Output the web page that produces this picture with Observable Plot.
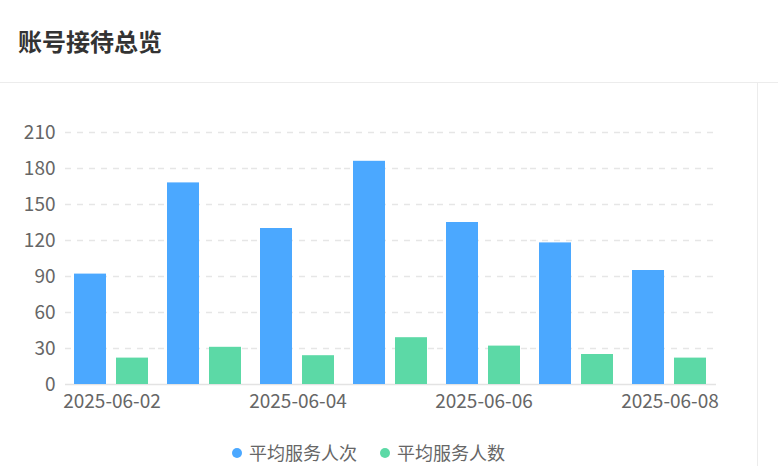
<!DOCTYPE html>
<html>
<head>
<meta charset="utf-8">
<script src="https://cdn.jsdelivr.net/npm/d3@7"></script>
<script src="https://cdn.jsdelivr.net/npm/@observablehq/plot@0.6"></script>
<style>
  html, body { margin: 0; padding: 0; background: #fff; }
  body { width: 778px; height: 466px; overflow: hidden; position: relative;
         font-family: "Noto Sans CJK SC", "Noto Sans", sans-serif; }
  #header { height: 82px; border-bottom: 1px solid #ececec; box-sizing: content-box; }
  #title { position: absolute; left: 18px; top: 24px; margin: 0; font-size: 24px;
           font-weight: bold; color: #333; line-height: 34px; }
  #panel { position: absolute; left: 0; top: 83px; width: 757px; height: 383px;
           border-right: 1px solid #ececec; }
  #chart svg { display: block; }
  #legend { position: absolute; left: 0; top: 442px; width: 737px; display: flex;
            justify-content: center; gap: 23px; font-size: 18px; color: #666; line-height: 21px; }
  .item { display: flex; align-items: center; }
  .dot { width: 10px; height: 10px; border-radius: 50%; margin-right: 7px; }
</style>
</head>
<body>
<div id="header"><h1 id="title">账号接待总览</h1></div>
<div id="panel"><div id="chart"></div></div>
<div id="legend"></div>
<script>
const dates = ["2025-06-02","2025-06-03","2025-06-04","2025-06-05","2025-06-06","2025-06-07","2025-06-08"];
const series = ["平均服务人次","平均服务人数"];
const visits = [92,168,130,186,135,118,95];
const people = [22,31,24,39,32,25,22];
const yTicks = [0,30,60,90,120,150,180,210];
const xTickLabels = ["2025-06-02","2025-06-04","2025-06-06","2025-06-08"];
const colors = ["#4ba8ff","#5cd9a6"];

const data = dates.flatMap((d, i) => [
  {date: d, series: series[0], value: visits[i]},
  {date: d, series: series[1], value: people[i]}
]);

const chart = Plot.plot({
  width: 757,
  height: 340,
  marginLeft: 62,
  marginRight: 38,
  marginTop: 49,
  marginBottom: 39,
  style: {fontFamily: '"Noto Sans CJK SC", "Noto Sans", sans-serif', fontSize: "19px", color: "#666", background: "transparent"},
  fx: {domain: dates, padding: 0, tickSize: 0, tickPadding: 10, label: null,
       tickFormat: d => xTickLabels.includes(d) ? d : ""},
  x: {domain: series, paddingInner: 0.234, paddingOuter: 0.219, axis: null},
  y: {domain: [0, 210], ticks: yTicks, tickSize: 0, tickPadding: 10, label: null},
  color: {domain: series, range: colors},
  marks: [
    Plot.gridY(yTicks.filter(v => v > 0), {stroke: "#e6e6e6", strokeOpacity: 1, strokeWidth: 1.5, strokeDasharray: "6,6"}),
    Plot.ruleY([0], {stroke: "#e3e3e3", strokeWidth: 1.5}),
    Plot.barY(data, {fx: "date", x: "series", y: "value", fill: "series"})
  ]
});
document.getElementById("chart").appendChild(chart);

const legend = document.getElementById("legend");
series.forEach((s, i) => {
  const item = document.createElement("div");
  item.className = "item";
  const dot = document.createElement("span");
  dot.className = "dot";
  dot.style.background = colors[i];
  const label = document.createElement("span");
  label.textContent = s;
  item.appendChild(dot);
  item.appendChild(label);
  legend.appendChild(item);
});
</script>
</body>
</html>
